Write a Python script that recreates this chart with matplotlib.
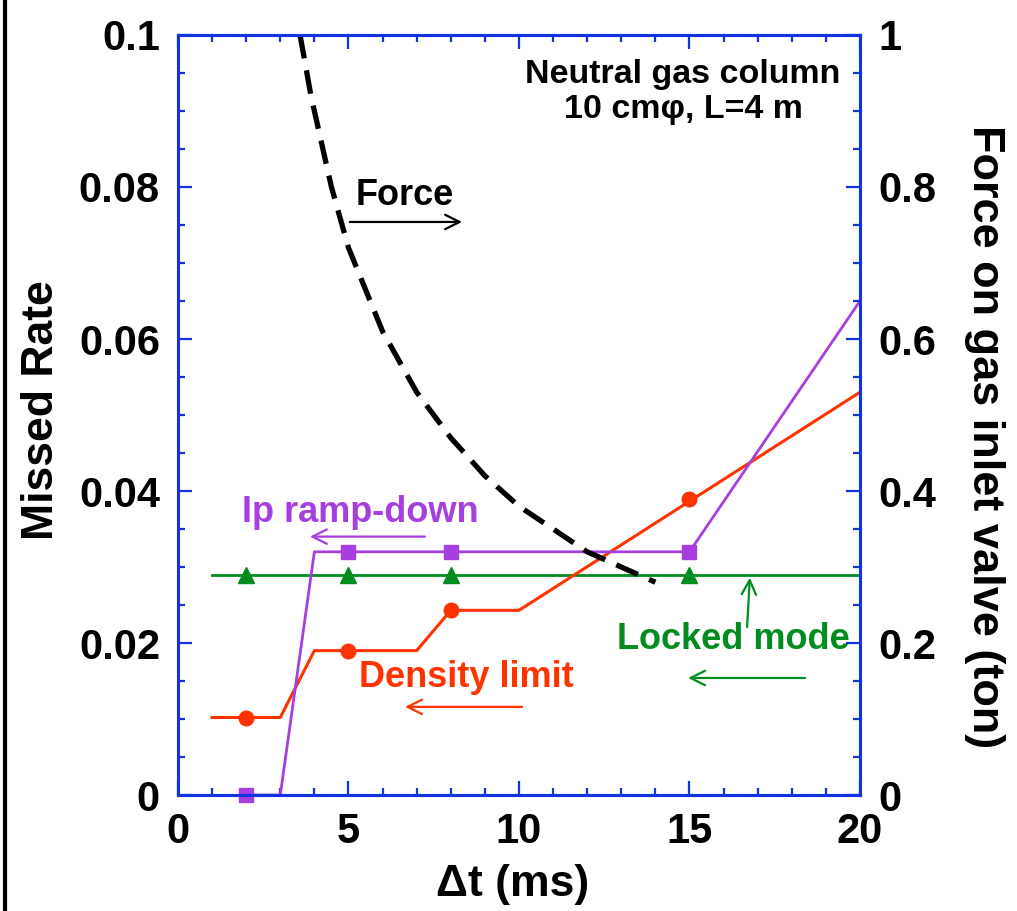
import matplotlib
matplotlib.use("Agg")
import matplotlib.pyplot as plt
from matplotlib.lines import Line2D
from matplotlib.ticker import MultipleLocator

plt.rcParams['font.family'] = ['Liberation Sans', 'DejaVu Sans']
plt.rcParams['font.weight'] = 'bold'
plt.rcParams['axes.labelweight'] = 'bold'

# density limit (red)
dl_x = [1, 3, 4, 7, 8, 10, 20]
dl_y = [0.0102, 0.0102, 0.019, 0.019, 0.0243, 0.0243, 0.053]
dl_mx = [2, 5, 8, 15]
dl_my = [0.0102, 0.019, 0.0243, 0.0389]

# Ip ramp-down (purple)
ip_x = [2, 3, 4, 15, 20]
ip_y = [0.0, 0.0, 0.032, 0.032, 0.065]
ip_mx = [2, 5, 8, 15]
ip_my = [0.0, 0.032, 0.032, 0.032]

# locked mode (green)
lm_x = [1, 20]
lm_y = [0.029, 0.029]
lm_mx = [2, 5, 8, 15]
lm_my = [0.029, 0.029, 0.029, 0.029]

# force on valve (ton, right axis)
f_t = [3.58, 3.9, 4.5, 5.0, 6.0, 7.0, 8.0, 9.0, 10.0, 11.0, 12.0, 13.0, 14.0]
f_v = [1.0, 0.92, 0.80, 0.72, 0.61, 0.53, 0.47, 0.42, 0.38, 0.35, 0.32, 0.30, 0.28]

red = '#ff3300'
purple = '#a63ee0'
green = '#008c1e'
blue = '#1433e0'

fig = plt.figure(figsize=(10.17, 9.11), dpi=100)
ax = fig.add_axes([0.175, 0.1273, 0.6706, 0.8343])
ax2 = ax.twinx()

ax.plot(lm_x, lm_y, color=green, lw=2)
ax.plot(lm_mx, lm_my, '^', color=green, ms=12, clip_on=False)
ax.plot(dl_x, dl_y, color=red, lw=2.2)
ax.plot(dl_mx, dl_my, 'o', color=red, ms=10.5, clip_on=False)
ax.plot(ip_x, ip_y, color=purple, lw=2)
ax.plot(ip_mx, ip_my, 's', color=purple, ms=10, clip_on=False, zorder=5)

ax2.plot(f_t, f_v, color='black', lw=3.8, dashes=(4.5, 2.3))

ax.set_xlim(0, 20)
ax.set_ylim(0, 0.1)
ax2.set_ylim(0, 1)

ax.xaxis.set_major_locator(MultipleLocator(5))
ax.xaxis.set_minor_locator(MultipleLocator(1))
ax.yaxis.set_major_locator(MultipleLocator(0.02))
ax.yaxis.set_minor_locator(MultipleLocator(0.005))
ax2.yaxis.set_major_locator(MultipleLocator(0.2))
ax2.yaxis.set_minor_locator(MultipleLocator(0.05))

ax.set_yticks([0, 0.02, 0.04, 0.06, 0.08, 0.1])
ax.set_yticklabels(['0', '0.02', '0.04', '0.06', '0.08', '0.1'])
ax2.set_yticks([0, 0.2, 0.4, 0.6, 0.8, 1.0])
ax2.set_yticklabels(['0', '0.2', '0.4', '0.6', '0.8', '1'])

for a in (ax, ax2):
    for s in a.spines.values():
        s.set_color(blue)
        s.set_linewidth(2.2)
ax.tick_params(axis='x', which='both', direction='in', top=True, color=blue,
               labelsize=30, pad=12)
ax.tick_params(axis='y', which='both', direction='in', right=False, color=blue,
               labelsize=30, pad=13)
ax2.tick_params(axis='y', which='both', direction='in', color=blue,
                labelsize=30, pad=13)
for a in (ax, ax2):
    a.tick_params(which='major', length=10, width=1.6)
    a.tick_params(which='minor', length=5, width=1.6)

ax.set_xlabel('Δt (ms)', fontsize=32, va='center')
ax.set_ylabel('Missed Rate', fontsize=32, va='center')
ax2.set_ylabel('Force on gas inlet valve (ton)', fontsize=32.5, rotation=270,
               va='center')
ax.xaxis.set_label_coords(0.49, -0.118)
ax.yaxis.set_label_coords(-0.2, 0.507)
ax2.yaxis.set_label_coords(1.183, 0.471)

arr = dict(arrowstyle='->', lw=1.6, shrinkA=0, shrinkB=0, mutation_scale=26)

ax2.text(6.66, 0.789, 'Force', fontsize=26, ha='center', va='center')
ax2.annotate('', xy=(8.33, 0.754), xytext=(5.04, 0.754),
             arrowprops=dict(arr, color='black'))

ax.text(5.34, 0.0372, 'Ip ramp-down', fontsize=26, color=purple,
        ha='center', va='center')
ax.annotate('', xy=(3.87, 0.034), xytext=(7.24, 0.034),
            arrowprops=dict(arr, color=purple))

ax.text(8.47, 0.0155, 'Density limit', fontsize=26, color=red,
        ha='center', va='center')
ax.annotate('', xy=(6.66, 0.0116), xytext=(10.09, 0.0116),
            arrowprops=dict(arr, color=red))

ax.text(16.28, 0.0204, 'Locked mode', fontsize=26, color=green,
        ha='center', va='center')
ax.annotate('', xy=(14.96, 0.0154), xytext=(18.39, 0.0154),
            arrowprops=dict(arr, color=green))
ax.annotate('', xy=(16.77, 0.0286), xytext=(16.69, 0.0221),
            arrowprops=dict(arr, color=green))

ax.text(14.81, 0.0925, 'Neutral gas column\n10 cmφ, L=4 m', fontsize=24.5,
        ha='center', va='center', multialignment='center', linespacing=1.15)

fig.add_artist(Line2D([5 / 1017, 5 / 1017], [0, 1], color='black', lw=3,
                      transform=fig.transFigure))

fig.savefig('out.png', dpi=100)
